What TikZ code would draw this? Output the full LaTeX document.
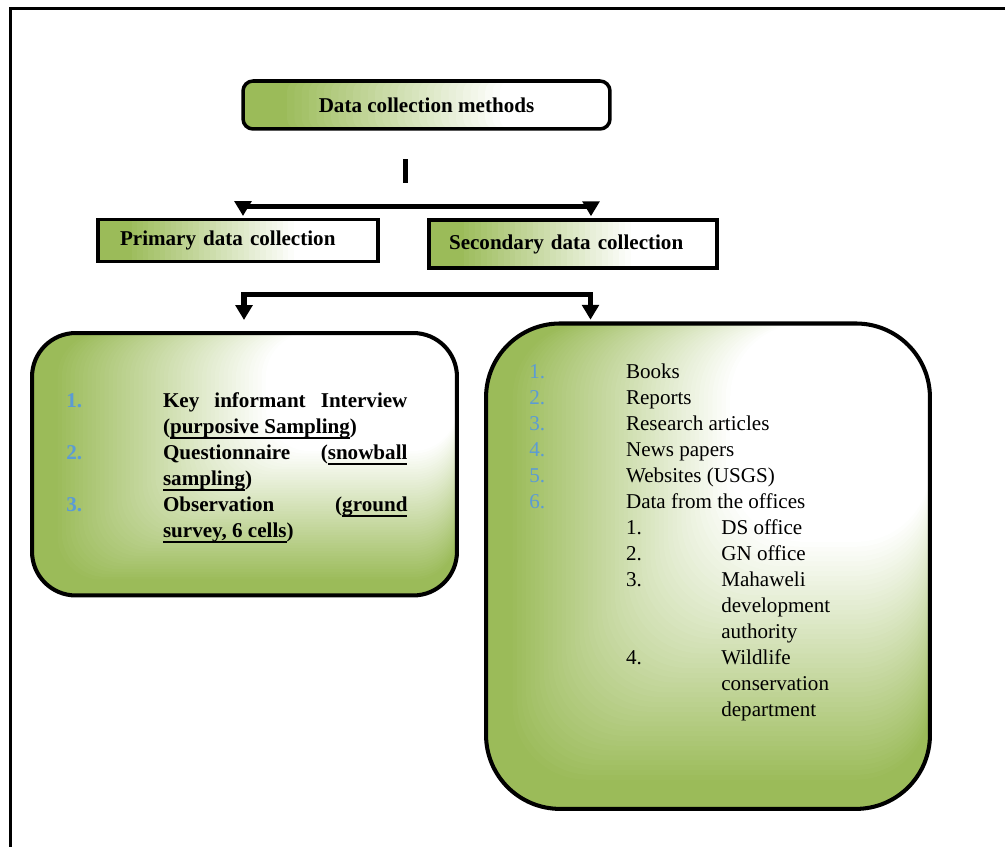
\documentclass[tikz,border=0pt]{standalone}
\usepackage{fontspec}
\setmainfont{Liberation Serif}
\usetikzlibrary{arrows.meta,calc}

\definecolor{leafgreen}{RGB}{155,187,89}
\definecolor{itemblue}{RGB}{91,155,213}
\newcommand{\undl}[1]{\setbox0\hbox{#1}\rlap{\rule[-2.9pt]{\wd0}{0.9pt}}\box0}
\newcommand{\inum}[1]{\textcolor{itemblue}{#1}}
\newcommand{\numcol}[1]{\makebox[1.934cm][l]{#1}}
\newcommand{\subcol}[1]{\makebox[1.906cm][l]{#1}}

\begin{document}
\begin{tikzpicture}[
    x=0.02cm, y=-0.02cm,
    every node/.style={inner sep=0pt, font=\fontsize{12}{14.8}\selectfont},
    sidefade/.style={path picture={
        \foreach \t in {100,98,...,30}{
            \pgfmathtruncatemacro\g{min(100,(\t-30)*100/60)}
            \fill[leafgreen!\g!white] (path picture bounding box.north east)
                rectangle ($(path picture bounding box.south east)!\t/100!(path picture bounding box.south west)$);
        }}},
    cornerfade/.style={path picture={
        \foreach \t in {100,99,...,44}{
            \pgfmathtruncatemacro\g{max(0,min(100,(\t-45)*2))}
            \fill[leafgreen!\g!white] (path picture bounding box.north east)
                rectangle ($(path picture bounding box.north east)!\t/100!(path picture bounding box.south west)$);
        }}},
    titlebox/.style={draw, line width=2pt, sidefade, font=\bfseries\fontsize{12}{14.8}\selectfont},
    listbox/.style={draw, line width=2.3pt, cornerfade},
    items/.style={anchor=north west, align=left},
    flow/.style={line width=2.85pt, {Triangle[width=9.5pt,length=8.5pt]}-{Triangle[width=9.5pt,length=8.5pt]}}
]
    \useasboundingbox (0,0) rectangle (1005,847);
    \draw[line width=1.4pt] (10.5,847) -- (10.5,8.5) -- (1005,8.5);

    \node (methods) [titlebox, rounded corners=0.2cm, minimum width=7.34cm, minimum height=0.96cm] at (426.5,105) {Data collection methods};
    \node (primary) [titlebox, text width=4.72cm, inner xsep=0.44cm, minimum height=0.84cm, align=left] at (238,240.5) {Primary data collection};
    \node (secondary) [titlebox, text width=4.96cm, inner xsep=0.4cm, minimum height=0.97cm, align=left] at (573,244) {Secondary data collection};

    \node (primlist) [listbox, rounded corners=0.875cm, minimum width=8.5cm, minimum height=5.25cm] at (244.5,464.25) {};
    \node (seclist) [listbox, rounded corners=1.48cm, minimum width=8.88cm, minimum height=9.71cm] at (708,566.2) {};

    \node (primitems) [items, font=\bfseries\fontsize{12}{14.8}\selectfont] at (66,389.1) {%
        \numcol{\inum{1.}}\makebox[4.89cm][s]{Key informant Interview}\strut\\
        \hspace*{1.934cm}(\undl{purposive Sampling})\\
        \numcol{\inum{2.}}\makebox[4.89cm][s]{Questionnaire (\undl{snowball}}\\
        \hspace*{1.934cm}\undl{sampling})\\
        \numcol{\inum{3.}}\makebox[4.89cm][s]{Observation (\undl{ground}}\\
        \hspace*{1.934cm}\undl{survey, 6 cells})};

    \node (secitems) [items] at (529,359.5) {%
        \numcol{\inum{1.}}Books\strut\\
        \numcol{\inum{2.}}Reports\\
        \numcol{\inum{3.}}Research articles\\
        \numcol{\inum{4.}}News papers\\
        \numcol{\inum{5.}}Websites (USGS)\\
        \numcol{\inum{6.}}Data from the offices\\
        \hspace*{1.934cm}\subcol{1.}DS office\\
        \hspace*{1.934cm}\subcol{2.}GN office\\
        \hspace*{1.934cm}\subcol{3.}Mahaweli\\
        \hspace*{3.84cm}development\\
        \hspace*{3.84cm}authority\\
        \hspace*{1.934cm}\subcol{4.}Wildlife\\
        \hspace*{3.84cm}conservation\\
        \hspace*{3.84cm}department};

    \coordinate (barT) at (405.5,159.3);
    \coordinate (barB) at (405.5,182.7);
    \draw[line width=3.2pt] (barT) -- (barB);

    \coordinate (split1L) at (243,206.7);
    \coordinate (split1R) at (591,206.7);
    \draw[flow, shorten <=1pt, shorten >=1pt] (primary.north -| split1L) -- (split1L) -- (split1R) -- (secondary.north -| split1R);

    \coordinate (split2L) at (244,295);
    \coordinate (split2R) at (590.5,295);
    \coordinate (tip2L) at (244,320);
    \draw[flow, shorten >=1pt] (tip2L) -- (split2L) -- (split2R) -- (seclist.north -| split2R);
\end{tikzpicture}
\end{document}
